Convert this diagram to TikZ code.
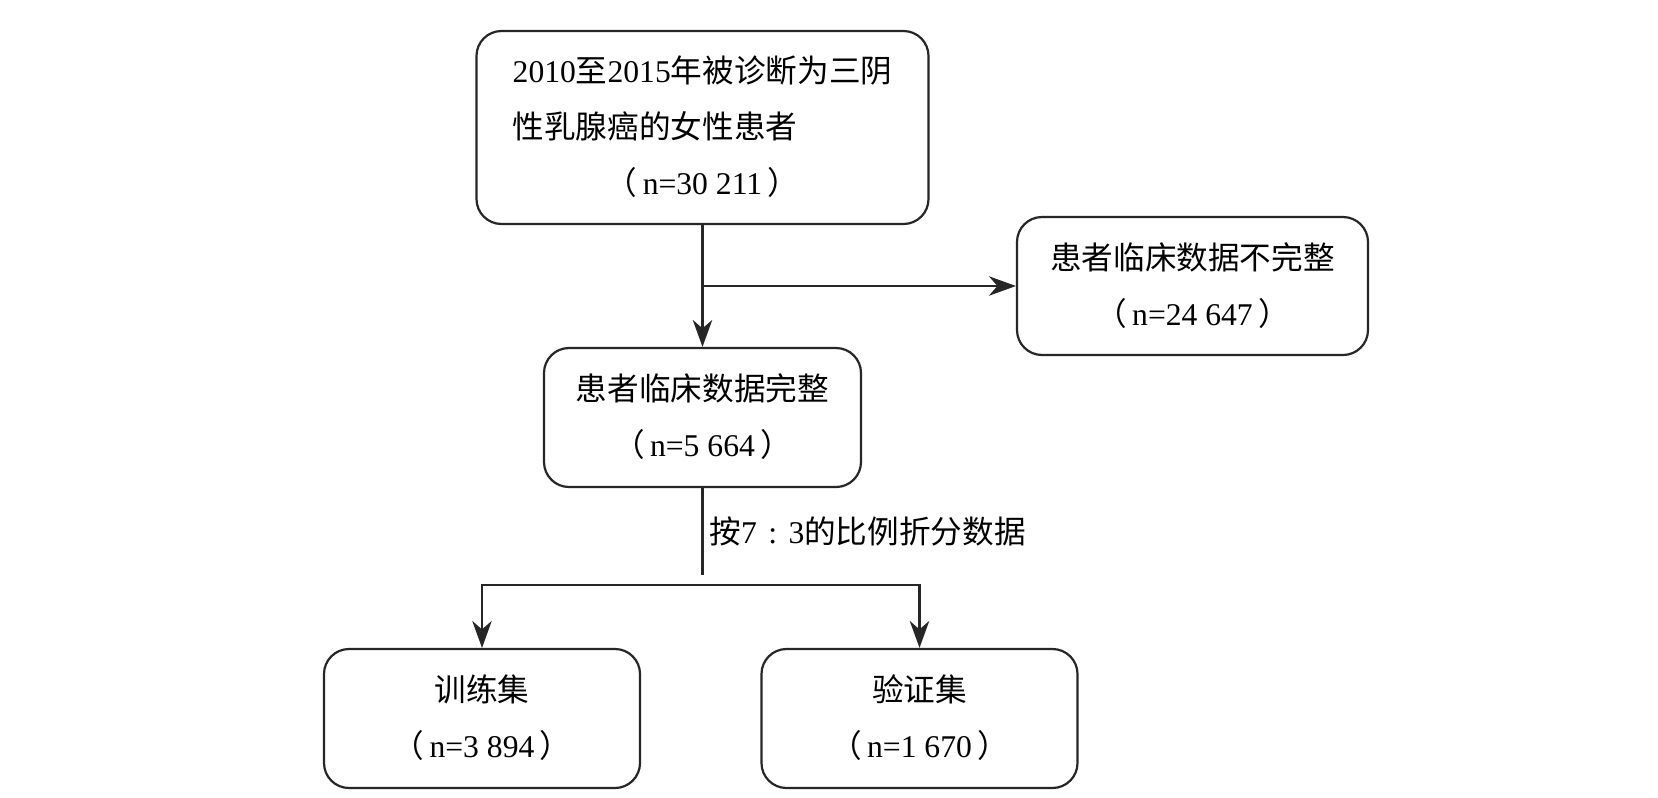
\documentclass[tikz,border=0pt]{standalone}
\usepackage{fontspec}
\setmainfont{Liberation Serif}
\newfontfamily\cjk{Noto Sans CJK SC}
\usetikzlibrary{arrows.meta}

\newcommand{\zh}[1]{{\cjk #1}}
\newcommand{\ncount}[1]{\zh{（}\,n=#1\,\zh{）}}

\begin{document}
\begin{tikzpicture}[>={Stealth[length=5.4mm,width=3.9mm,inset=1.7mm]},
	box/.style={draw=black!85,line width=1.25pt,rounded corners=5mm,inner sep=0pt,
		font=\fontsize{18pt}{32pt}\selectfont},
	link/.style={draw=black!85,line width=1.25pt}]
					\useasboundingbox (0,0) rectangle (33.16,-15.96);

					\node (patients) [box,minimum width=9.04cm,minimum height=3.86cm] at (14.05,-2.55) {
						\begin{tabular}{@{}l@{}}
							2010\zh{至}2015\zh{年被诊断为三阴}\\
							\zh{性乳腺癌的女性患者}\\
							\multicolumn{1}{@{}c@{}}{\ncount{30~211}}
						\end{tabular}
					};
					\node (incomplete) [box,minimum width=7.02cm,minimum height=2.76cm] at (23.85,-5.72) {
						\begin{tabular}{c}
							\zh{患者临床数据不完整}\\
							\ncount{24~647}
						\end{tabular}
					};
					\node (complete) [box,minimum width=6.34cm,minimum height=2.78cm] at (14.05,-8.35) {
						\begin{tabular}{c}
							\zh{患者临床数据完整}\\
							\ncount{5~664}
						\end{tabular}
					};
					\node (train) [box,minimum width=6.32cm,minimum height=2.78cm] at (9.64,-14.37) {
						\begin{tabular}{c}
							\zh{训练集}\\
							\ncount{3~894}
						\end{tabular}
					};
					\node (valid) [box,minimum width=6.32cm,minimum height=2.78cm] at (18.39,-14.37) {
						\begin{tabular}{c}
							\zh{验证集}\\
							\ncount{1~670}
						\end{tabular}
					};

					\coordinate (splitend) at (14.05,-11.50);
					\coordinate (fork) at (14.05,-11.70);

					\path[link,->] (patients) -- (complete);
					\path[link,->] (patients.south |- incomplete.west) -- (incomplete.west);
					\path[link] (complete) -- node [right,font=\fontsize{18pt}{32pt}\selectfont]
						{\zh{按}7\makebox[1em][c]{:}3\zh{的比例折分数据}} (splitend);
					\path[link,->] (fork) -| (train);
					\path[link,->] (fork) -| (valid);
				\end{tikzpicture}
\end{document}
